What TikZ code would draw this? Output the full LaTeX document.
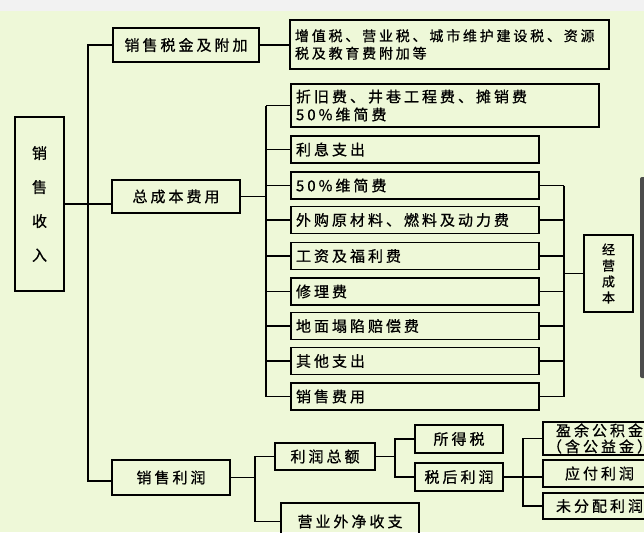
\documentclass[tikz,border=0pt]{standalone}
\usepackage{fontspec}
\usetikzlibrary{positioning}

\newfontfamily\cjk[LetterSpace=20, FakeBold=0.8]{Noto Sans CJK SC}
\definecolor{paper}{RGB}{238,248,216}
\definecolor{topstrip}{RGB}{242,242,242}

\begin{document}
\begin{tikzpicture}[x=1pt, y=-1pt,
    box/.style={draw, line width=1.1pt, inner sep=0pt, font=\cjk\fontsize{15}{18}\selectfont},
    item/.style={box, text width=238pt, align=left, inner xsep=5pt, minimum height=27pt},
    link/.style={line width=1.1pt}]
  % page and background
  \useasboundingbox (0,0) rectangle (644,532);
  \fill[paper] (0,0) rectangle (644,532);
  \fill[topstrip] (0,0) rectangle (644,11);

  % sales income and its three parts
  \node[box, minimum width=49pt, minimum height=174pt, align=center,
        font=\cjk\fontsize{15}{34}\selectfont] (income) at (39.5,204) {销\\售\\收\\入};
  \node[box, minimum width=146pt, minimum height=34pt] (tax) at (186,45) {销售税金及附加};
  \node[box, minimum width=128pt, minimum height=33pt] (cost) at (176,196.5) {总成本费用};
  \node[box, minimum width=118pt, minimum height=35pt] (profit) at (171,477.5) {销售利润};

  % taxes
  \node[box, text width=309pt, align=left, inner xsep=5pt, minimum height=49pt,
        font=\cjk\fontsize{14}{17.5}\selectfont] (taxlist) at (449.5,44.5)
        {增值税、营业税、城市维护建设税、资源\\税及教育费附加等};

  % items of the total cost
  \node[box, text width=298pt, align=left, inner xsep=5pt, minimum height=43pt] (dep) at (445,105.5)
        {折旧费、井巷工程费、摊销费\\50\%维简费};
  \node[item] (interest) at (415,149.5) {利息支出};
  \node[item] (maint)    at (415,185.5) {50\%维简费};
  \node[item] (material) at (415,220)   {外购原材料、燃料及动力费};
  \node[item] (wage)     at (415,256)   {工资及福利费};
  \node[item] (repair)   at (415,291.5) {修理费};
  \node[item] (subside)  at (415,326)   {地面塌陷赔偿费};
  \node[item] (other)    at (415,361)   {其他支出};
  \node[item] (selling)  at (415,396.5) {销售费用};
  \node[box, minimum width=49pt, minimum height=77pt, align=center,
        font=\cjk\fontsize{13}{16}\selectfont] (opcost) at (608.5,273.5) {经\\营\\成\\本};

  % profit side
  \node[box, minimum width=100pt, minimum height=27pt] (gross) at (325,456.5) {利润总额};
  \node[box, minimum width=138pt, minimum height=37pt] (nonop) at (350,521.5) {营业外净收支};
  \node[box, minimum width=88pt, minimum height=28pt] (incometax) at (459,439) {所得税};
  \node[box, minimum width=88pt, minimum height=28pt] (aftertax) at (459,477) {税后利润};
  \node[box, minimum width=113pt, minimum height=33pt, align=center,
        font=\cjk\fontsize{15}{16}\selectfont] (surplus) at (599.5,438.5) {盈余公积金\\（含公益金）};
  \node[box, minimum width=113pt, minimum height=27pt] (payable) at (599.5,473.5) {应付利润};
  \node[box, minimum width=113pt, minimum height=26pt] (undist) at (599.5,506) {未分配利润};

  % joints of the brackets
  \coordinate (trunk) at (88,481);
  \coordinate (costjoin) at (266,0);
  \coordinate (opjoin) at (564,0);
  \coordinate (profitjoin) at (255,0);
  \coordinate (grossjoin) at (395,0);
  \coordinate (afterjoin) at (523,0);

  % main bracket
  \draw[link] (tax.west) -| (trunk) -- (trunk -| profit.west);
  \draw[link] (income.east) -- (income.east -| cost.west);
  \draw[link] (tax.east) -- (taxlist.west |- tax.east);

  % total cost bracket
  \draw[link] (cost.east) -- (cost.east -| costjoin);
  \draw[link] (costjoin |- dep.west) -- (costjoin |- selling.west);
  \draw[link] (costjoin |- dep.west) -- (dep.west)
              (costjoin |- interest.west) -- (interest.west)
              (costjoin |- maint.west) -- (maint.west)
              (costjoin |- material.west) -- (material.west)
              (costjoin |- wage.west) -- (wage.west)
              (costjoin |- repair.west) -- (repair.west)
              (costjoin |- subside.west) -- (subside.west)
              (costjoin |- other.west) -- (other.west)
              (costjoin |- selling.west) -- (selling.west);

  % operating cost bracket
  \draw[link] (maint.east) -- (maint.east -| opjoin)
              (material.east) -- (material.east -| opjoin)
              (wage.east) -- (wage.east -| opjoin)
              (repair.east) -- (repair.east -| opjoin)
              (subside.east) -- (subside.east -| opjoin)
              (other.east) -- (other.east -| opjoin)
              (selling.east) -- (selling.east -| opjoin);
  \draw[link] (opjoin |- maint.east) -- (opjoin |- selling.east);
  \draw[link] (opjoin |- opcost.west) -- (opcost.west);

  % profit brackets
  \draw[link] (profit.east) -- (profit.east -| profitjoin);
  \draw[link] (gross.west) -| (profitjoin |- nonop.west) -- (nonop.west);
  \draw[link] (gross.east) -- (gross.east -| grossjoin);
  \draw[link] (incometax.west) -| (grossjoin |- aftertax.west) -- (aftertax.west);
  \draw[link] (aftertax.east) -- (aftertax.east -| payable.west);
  \draw[link] (surplus.west) -| (afterjoin |- undist.west) -- (undist.west);

  % dark bar at the right edge
  \fill[black!70, rounded corners=2pt] (640,177) rectangle (650,378);
\end{tikzpicture}
\end{document}
